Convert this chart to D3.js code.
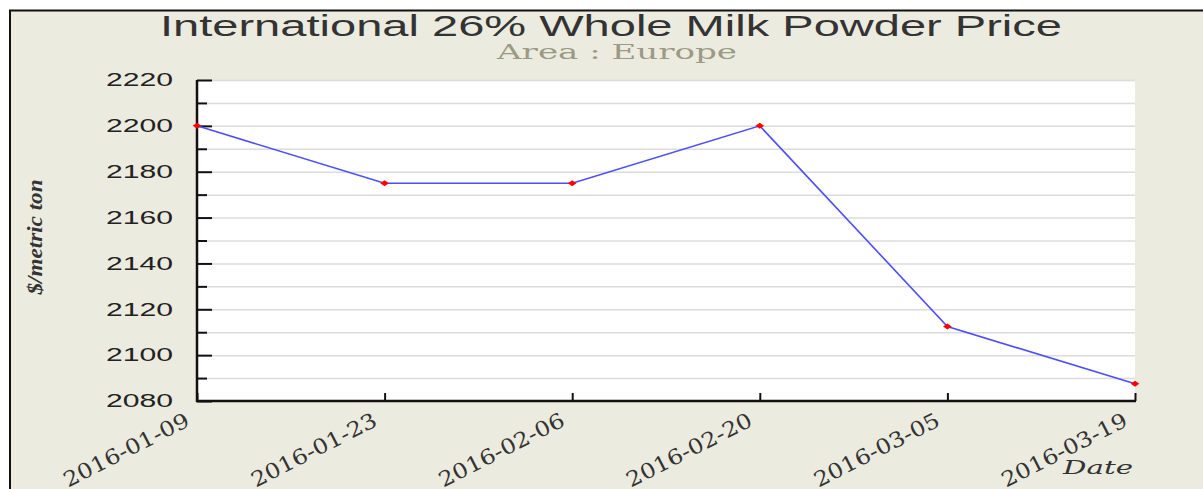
<!DOCTYPE html>
<html>
<head>
<meta charset="utf-8">
<script src="https://cdn.jsdelivr.net/npm/d3@7"></script>
<style>
  html, body { margin: 0; padding: 0; background: #fff; }
  svg { display: block; }
</style>
</head>
<body>
<svg id="chart"></svg>
<script>
// chart data
const dates = ['2016-01-09', '2016-01-23', '2016-02-06', '2016-02-20', '2016-03-05', '2016-03-19'];
const prices = [2200, 2175, 2175, 2200, 2112.5, 2087.5];
const yTicks = [2080, 2100, 2120, 2140, 2160, 2180, 2200, 2220];

const W = 1203, H = 489;
const margin = { top: 80, right: 68, bottom: 88, left: 197 };

const svg = d3.select('#chart').attr('width', W).attr('height', H);

// panel background + frame
svg.append('rect').attr('x', 9).attr('y', 10).attr('width', W - 9).attr('height', H - 10)
  .attr('fill', '#ecebdf');
svg.append('line').attr('x1', 9).attr('x2', W).attr('y1', 10.5).attr('y2', 10.5)
  .attr('stroke', '#111').attr('stroke-width', 2);
svg.append('line').attr('x1', 10).attr('x2', 10).attr('y1', 10).attr('y2', H)
  .attr('stroke', '#111').attr('stroke-width', 2);

const x = d3.scalePoint().domain(dates).range([margin.left, W - margin.right]);
const y = d3.scaleLinear().domain([2080, 2220]).range([H - margin.bottom, margin.top]);

// plot area
svg.append('rect')
  .attr('x', margin.left).attr('y', margin.top)
  .attr('width', W - margin.right - margin.left)
  .attr('height', H - margin.bottom - margin.top)
  .attr('fill', '#fff');

// gridlines every 10
svg.append('g')
  .attr('transform', `translate(${margin.left},0)`)
  .call(d3.axisRight(y).tickValues(d3.range(2080, 2221, 10))
    .tickSize(W - margin.right - margin.left).tickFormat(''))
  .call(g => g.select('.domain').remove())
  .call(g => g.selectAll('line').attr('stroke', '#dcdcdc').attr('stroke-width', 1.5));

// y axis: inward ticks, major 20, minor 10
const yAxis = svg.append('g').attr('transform', `translate(${margin.left},0)`);
yAxis.call(d3.axisRight(y).tickValues(d3.range(2090, 2220, 20)).tickSize(10).tickFormat(''))
  .call(g => g.select('.domain').remove());
yAxis.append('g').call(d3.axisRight(y).tickValues(yTicks).tickSize(15).tickFormat(''))
  .call(g => g.select('.domain').remove());
yAxis.selectAll('line').attr('stroke', '#111').attr('stroke-width', 2);
yAxis.append('line').attr('x1', 0).attr('x2', 0)
  .attr('y1', margin.top).attr('y2', H - margin.bottom + 1)
  .attr('stroke', '#111').attr('stroke-width', 2.5);
yAxis.selectAll('text.ylab').data(yTicks).join('text')
  .attr('class', 'ylab')
  .attr('x', -24).attr('y', d => y(d)).attr('dy', '0.35em')
  .attr('text-anchor', 'end')
  .attr('font-family', '"Liberation Sans", Arial, sans-serif')
  .attr('font-size', 18).attr('fill', '#222')
  .attr('textLength', 67).attr('lengthAdjust', 'spacingAndGlyphs')
  .text(d => d);

// x axis: inward ticks
const xAxis = svg.append('g').attr('transform', `translate(0,${H - margin.bottom})`);
xAxis.call(d3.axisTop(x).tickSize(8).tickFormat(''))
  .call(g => g.select('.domain').remove());
xAxis.selectAll('line').attr('stroke', '#111').attr('stroke-width', 2);
xAxis.append('line').attr('x1', margin.left - 1).attr('x2', W - margin.right + 1)
  .attr('y1', 0).attr('y2', 0).attr('stroke', '#111').attr('stroke-width', 2.5);
xAxis.selectAll('text.xlab').data(dates).join('text')
  .attr('class', 'xlab')
  .attr('text-anchor', 'end')
  .attr('transform', d => `translate(${x(d) - 6},${24}) rotate(-27)`)
  .attr('font-family', '"DejaVu Serif", "Liberation Serif", serif')
  .attr('font-size', 21).attr('fill', '#333')
  .attr('textLength', 138).attr('lengthAdjust', 'spacingAndGlyphs')
  .text(d => d);

// line
svg.append('path')
  .datum(prices)
  .attr('fill', 'none').attr('stroke', '#4d4dff').attr('stroke-width', 1.6)
  .attr('d', d3.line().x((d, i) => x(dates[i])).y(d => y(d)));

// markers (wide diamonds)
svg.selectAll('path.pt').data(prices).join('path')
  .attr('class', 'pt')
  .attr('d', d3.symbol(d3.symbolSquare, 22))
  .attr('transform', (d, i) => `translate(${x(dates[i])},${y(d)}) scale(1.3,0.9) rotate(45)`)
  .attr('fill', '#ff0000');

// titles
svg.append('text').attr('x', 611).attr('y', 36).attr('text-anchor', 'middle')
  .attr('font-family', '"Liberation Sans", Arial, sans-serif')
  .attr('font-size', 29).attr('fill', '#333')
  .attr('textLength', 902).attr('lengthAdjust', 'spacingAndGlyphs')
  .text('International 26% Whole Milk Powder Price');
svg.append('text').attr('x', 617).attr('y', 59).attr('text-anchor', 'middle')
  .attr('font-family', '"DejaVu Serif", "Liberation Serif", serif')
  .attr('font-size', 20).attr('fill', '#9a9a85')
  .attr('textLength', 240).attr('lengthAdjust', 'spacingAndGlyphs')
  .text('Area : Europe');

// axis titles
svg.append('text')
  .attr('transform', 'translate(42,237) rotate(-90)')
  .attr('text-anchor', 'middle')
  .attr('font-family', '"Liberation Serif", "DejaVu Serif", serif')
  .attr('font-style', 'italic').attr('font-weight', 'bold')
  .attr('font-size', 22).attr('fill', '#333')
  .attr('textLength', 115).attr('lengthAdjust', 'spacingAndGlyphs')
  .text('$/metric ton');
svg.append('text').attr('x', 1133).attr('y', 474).attr('text-anchor', 'end')
  .attr('font-family', '"DejaVu Serif", "Liberation Serif", serif')
  .attr('font-style', 'italic').attr('font-size', 19).attr('fill', '#333')
  .attr('textLength', 70).attr('lengthAdjust', 'spacingAndGlyphs')
  .text('Date');
</script>
</body>
</html>
